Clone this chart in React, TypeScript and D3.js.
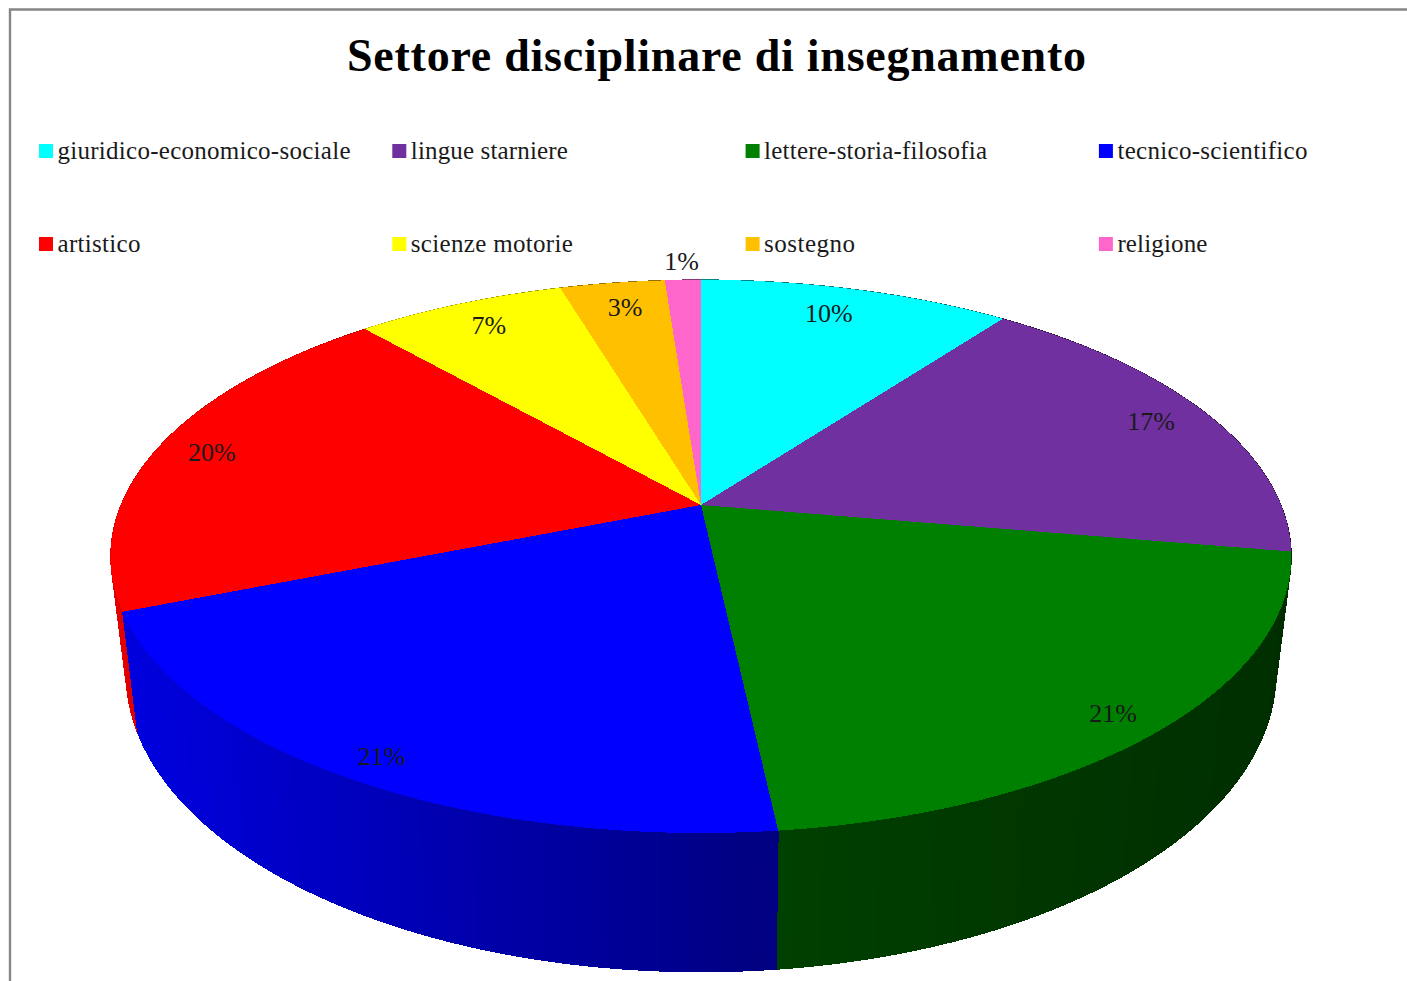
import React from "react";
import * as d3 from "d3";

const categories = ["giuridico-economico-sociale", "lingue starniere", "lettere-storia-filosofia", "tecnico-scientifico", "artistico", "scienze motorie", "sostegno", "religione"];
const values = [10.2, 17.5, 20.57, 20.66, 19.59, 6.86, 3.44, 1.18];
const valueLabels = ["10%", "17%", "21%", "21%", "20%", "7%", "3%", "1%"];
const colors = ["#00ffff", "#7030a0", "#008000", "#0000ff", "#ff0000", "#ffff00", "#ffc000", "#ff66cc"];
const legendWidths = [293, 157, 223, 190, 83, 162, 91, 90];
const title = "Settore disciplinare di insegnamento";

const CX = 701, CY = 505, P = 0.186, RX = 580, RY = 267, H = 113, SHRINK = 0.974;
const FONT = "'Liberation Serif', serif";

type Pt = [number, number];
const persp = (Y: number) => 1 / (1 - P * Y);
const top = (a: number, r = 1): Pt => {
  const X = Math.sin(a) * r, Y = -Math.cos(a) * r, s = persp(Y);
  return [CX + RX * X * s, CY + RY * Y * s];
};
const base = (a: number): Pt => {
  const [x, y] = top(a);
  return [CX + (x - CX) * SHRINK, y + H * persp(-Math.cos(a))];
};
const shade = d3.scaleLinear().domain([-590, 77, 590]).range([0.88, 0.5, 0.36]);
const line = d3.line();

const arcs = d3.pie<number>().sort(null).startAngle(0).endAngle(2 * Math.PI)(values);
const STEP = (1.2 * Math.PI) / 180;

function samples(a0: number, a1: number) {
  const n = Math.max(1, Math.ceil((a1 - a0) / STEP));
  return d3.range(n + 1).map((i) => a0 + ((a1 - a0) * i) / n);
}

const wallStrips = arcs
  .flatMap((arc, i) => {
    const as = samples(arc.startAngle, arc.endAngle);
    return as.slice(0, -1).map((a, k) => {
      const b = as[k + 1];
      const mid = top((a + b) / 2);
      const c = d3.rgb(colors[i]);
      const f = shade(mid[0] - CX);
      return {
        depth: -Math.cos((a + b) / 2),
        d: line([top(a), top(b), base(b), base(a)])! + "Z",
        fill: d3.rgb(c.r * f, c.g * f, c.b * f).formatHex(),
      };
    });
  })
  .sort((p, q) => p.depth - q.depth);

const labelRadius = [0.87, 0.87, 0.87, 0.87, 0.87, 0.87, 0.87, 1.08];
const labelNudgeX = [-10, 8, 20, -18, -16, 2, 3, 0];
const labelNudgeY = [-1, -3, 16, 20, -1, -2, -1, -4];

export default function App() {
  return (
    <svg width={1407} height={981} style={{ position: "absolute", left: 0, top: 0, background: "#fff" }}>
      <path d="M10 981V9.5H1407" fill="none" stroke="#868686" strokeWidth={2.4} />
      <text x={347} y={71} fontFamily={FONT} fontWeight="bold" fontSize={46} textLength={739} lengthAdjust="spacing" fill="#000">{title}</text>
      {categories.map((c, i) => {
        const col = i % 4, row = Math.floor(i / 4);
        const x = 39 + col * 353.3, y = 144 + row * 93;
        return (
          <g key={c}>
            <rect x={x} y={y} width={14} height={14} fill={colors[i]} />
            <text x={x + 18.5} y={y + 14.5} fontFamily={FONT} fontSize={25} textLength={legendWidths[i]} lengthAdjust="spacing" fill="#1a1a1a">{c}</text>
          </g>
        );
      })}
      <g shapeRendering="crispEdges">
        {wallStrips.map((s, i) => (
          <path key={i} d={s.d} fill={s.fill} stroke={s.fill} strokeWidth={1} />
        ))}
        {arcs.map((arc, i) => {
          const pts: Pt[] = [[CX, CY], ...samples(arc.startAngle, arc.endAngle).map((a) => top(a))];
          return <path key={i} d={line(pts)! + "Z"} fill={colors[i]} />;
        })}
      </g>
      {arcs.map((arc, i) => {
        const [x, y] = top((arc.startAngle + arc.endAngle) / 2, labelRadius[i]);
        return (
          <text key={i} x={x + labelNudgeX[i]} y={y + 9 + labelNudgeY[i]} textAnchor="middle" fontFamily={FONT} fontSize={26} fill="#1a1a1a">{valueLabels[i]}</text>
        );
      })}
    </svg>
  );
}
